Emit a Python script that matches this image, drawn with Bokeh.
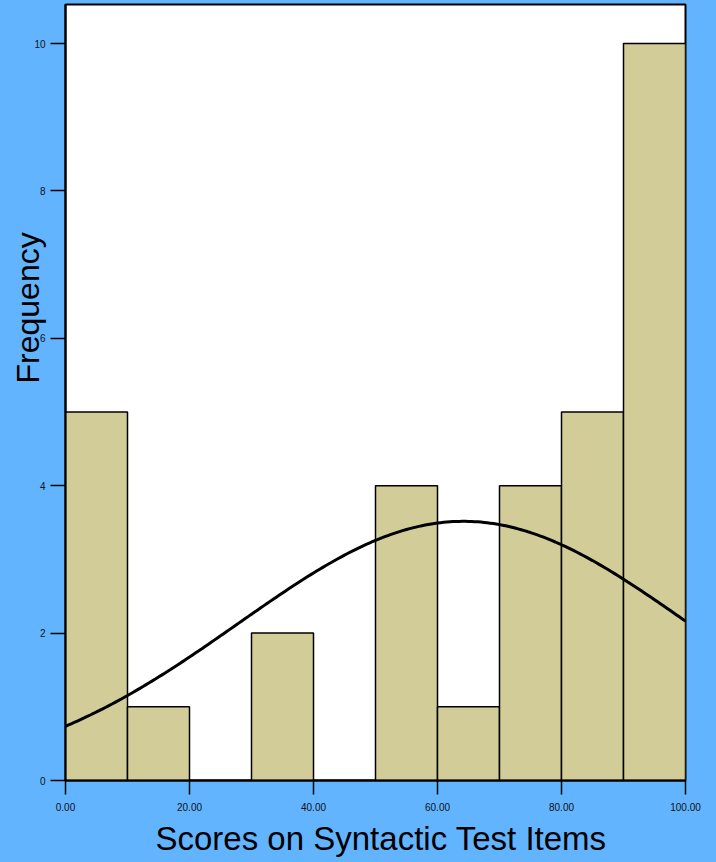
import math
from bokeh.plotting import figure
from bokeh.models import Range1d, FixedTicker, Title
from bokeh.embed import file_html
from bokeh.resources import INLINE

# ---- data ----
bin_left = [0, 10, 20, 30, 40, 50, 60, 70, 80, 90]
bin_right = [10, 20, 30, 40, 50, 60, 70, 80, 90, 100]
counts = [5, 1, 0, 2, 0, 4, 1, 4, 5, 10]
x_ticks = [0, 20, 40, 60, 80, 100]
x_tick_labels = ["0.00", "20.00", "40.00", "60.00", "80.00", "100.00"]
y_ticks = [0, 2, 4, 6, 8, 10]

# normal curve parameters (SPSS-style fitted normal)
curve_mean = 64.2
curve_sd = 36.3
n_cases = 32
bin_width = 10

BLUE = "#62B4FF"
KHAKI = "#D2CD98"
FONT = "Liberation Sans"

curve_x = [i * 0.5 for i in range(0, 201)]
curve_y = [n_cases * bin_width / (curve_sd * math.sqrt(2 * math.pi))
           * math.exp(-((x - curve_mean) ** 2) / (2 * curve_sd ** 2)) for x in curve_x]

p = figure(width=716, height=862, output_backend="svg", toolbar_location=None,
           x_range=Range1d(0, 100), y_range=Range1d(0, 10.53),
           min_border_left=65, min_border_right=31, min_border_top=4, min_border_bottom=82)
p.border_fill_color = BLUE
p.background_fill_color = "white"
p.outline_line_color = "black"
p.outline_line_width = 2
p.grid.visible = False

p.quad(left=bin_left, right=bin_right, top=counts, bottom=0,
       fill_color=KHAKI, line_color="black", line_width=1.5)
p.line(curve_x, curve_y, line_color="black", line_width=3)

p.xaxis.ticker = FixedTicker(ticks=x_ticks)
p.xaxis.major_label_overrides = {t: l for t, l in zip(x_ticks, x_tick_labels)}
p.yaxis.ticker = FixedTicker(ticks=y_ticks)
for ax in (p.xaxis, p.yaxis):
    ax.axis_line_color = "black"
    ax.axis_line_width = 2
    ax.major_tick_line_color = "black"
    ax.major_tick_line_width = 1.5
    ax.major_tick_in = 0
    ax.minor_tick_line_color = None
    ax.major_label_text_font = FONT
    ax.major_label_text_font_size = "10px"
    ax.major_label_text_color = "#111111"
p.xaxis.major_tick_out = 14
p.xaxis.major_label_standoff = 8
p.yaxis.major_tick_out = 15
p.yaxis.major_label_standoff = 5

p.add_layout(Title(text="Scores on Syntactic Test Items", text_font=FONT,
                   text_font_size="33px", text_font_style="normal",
                   text_color="black", align="left", offset=90,
                   vertical_align="bottom", standoff=8), "below")
p.add_layout(Title(text="Frequency", text_font=FONT,
                   text_font_size="32px", text_font_style="normal",
                   text_color="black", align="left", offset=397,
                   vertical_align="top", standoff=-33), "left")

template = """
{% block postamble %}
<style>
html, body { margin: 0 !important; padding: 0 !important; background: #62B4FF !important; overflow: hidden; }
</style>
{% endblock %}
"""

open("out.html", "w").write(file_html(p, INLINE, template=template))
